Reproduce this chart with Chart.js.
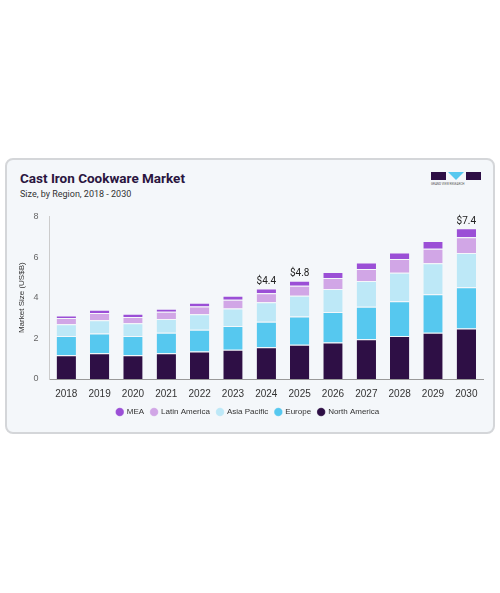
<!DOCTYPE html><html><head><meta charset="utf-8">
<script src="https://cdn.jsdelivr.net/npm/chart.js@4"></script>
<style>
body{margin:0;background:#fff;font-family:Roboto,Arial,sans-serif;width:500px;height:593px;position:relative}
#card{position:absolute;left:5px;top:158px;width:486px;height:272px;border:2px solid #d4d6d9;border-radius:8px;background:#f4f7fa}
#t{position:absolute;left:13px;top:10px;font-size:13.5px;font-weight:bold;color:#2a1540}
#s{position:absolute;left:13px;top:29px;font-size:9px;color:#333}
#wrap{position:absolute;left:6px;top:48px;width:476px;height:218px}
#logo{position:absolute;right:12px;top:12px;width:50px;height:20px}
</style></head><body>
<div id="card"><div id="t">Cast Iron Cookware Market</div><div id="s">Size, by Region, 2018 - 2030</div>
<div id="logo"><div style="position:absolute;left:0;top:0;width:15px;height:8px;background:#2e0f45"></div>
<div style="position:absolute;left:17px;top:0;width:0;height:0;border-left:8px solid transparent;border-right:8px solid transparent;border-top:8px solid #56c8ef"></div>
<div style="position:absolute;left:35px;top:0;width:15px;height:8px;background:#2e0f45"></div>
<div style="position:absolute;left:0;top:10px;font-size:3px;color:#555;white-space:nowrap">GRAND VIEW RESEARCH</div></div>
<div id="wrap"><canvas id="c"></canvas></div></div>
<script>
const years=['2018','2019','2020','2021','2022','2023','2024','2025','2026','2027','2028','2029','2030'];
const northAmerica=[1.17,1.27,1.17,1.27,1.35,1.44,1.56,1.69,1.80,1.96,2.11,2.27,2.48];
const europe=[0.94,0.97,0.94,1.00,1.07,1.17,1.26,1.38,1.50,1.60,1.72,1.90,2.03];
const asiaPacific=[0.58,0.65,0.63,0.68,0.76,0.86,0.95,1.02,1.13,1.26,1.40,1.53,1.69];
const latinAmerica=[0.31,0.36,0.31,0.36,0.39,0.43,0.45,0.50,0.54,0.59,0.68,0.71,0.78];
const mea=[0.13,0.16,0.16,0.15,0.18,0.19,0.23,0.25,0.29,0.32,0.31,0.38,0.44];
const totalLabels={'2024':'$4.4','2025':'$4.8','2030':'$7.4'};
const mk=(l,d,c)=>({label:l,data:d,backgroundColor:c,borderColor:'#f4f7fa',borderWidth:{top:1},borderSkipped:'bottom',barPercentage:0.58,categoryPercentage:1});
const totals={id:'tot',afterDatasetsDraw(ch){const ctx=ch.ctx;const meta=ch.getDatasetMeta(4);ctx.save();ctx.font='10px Roboto';ctx.fillStyle='#222';ctx.textAlign='center';
years.forEach((y,i)=>{if(totalLabels[y]){const b=meta.data[i];ctx.fillText(totalLabels[y],b.x,b.y-7);}});ctx.restore();}};
new Chart(document.getElementById('c'),{type:'bar',data:{labels:years,datasets:[
mk('North America',northAmerica,'#2e0f45'),mk('Europe',europe,'#56c8ef'),mk('Asia Pacific',asiaPacific,'#bde8f7'),mk('Latin America',latinAmerica,'#d1a6e6'),mk('MEA',mea,'#9b4fd6')]},
options:{responsive:true,maintainAspectRatio:false,animation:false,layout:{padding:{left:0,right:6,top:2}},
plugins:{tooltip:{enabled:false},legend:{position:'bottom',reverse:true,labels:{usePointStyle:true,pointStyle:'circle',boxWidth:6,boxHeight:6,font:{size:8},color:'#333',padding:7}}},
scales:{x:{stacked:true,grid:{display:false},border:{color:'#999'},ticks:{color:'#333',font:{size:10},padding:1}},
y:{stacked:true,min:0,max:8,ticks:{stepSize:2,color:'#666',font:{size:9}},grid:{display:false},border:{color:'#ccc'},title:{display:true,text:'Market Size (US$B)',font:{size:8},color:'#333'}}}},plugins:[totals]});
</script></body></html>
